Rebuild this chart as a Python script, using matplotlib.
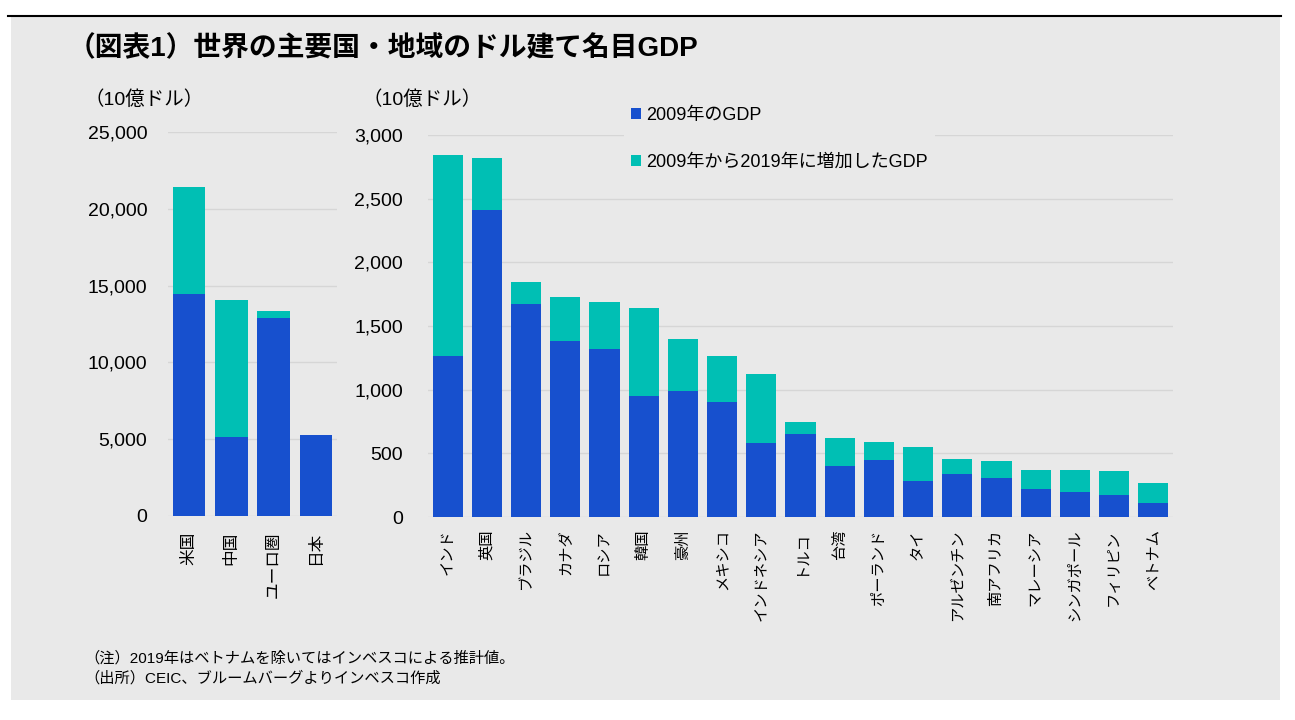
"""Nominal GDP in US dollars for major countries and regions, 2009 vs 2019."""

import matplotlib.pyplot as plt
import numpy as np
from matplotlib.lines import Line2D
from matplotlib.patches import Rectangle
from matplotlib.ticker import StrMethodFormatter

# left panel: large economies (billion USD)
big_names = ["米国", "中国", "ユーロ圏", "日本"]
big_2009 = [14450, 5150, 12900, 5280]
big_2019 = [21420, 14080, 13360, 5280]

# right panel: other economies (billion USD)
other_names = [
    "インド", "英国", "ブラジル", "カナダ", "ロシア", "韓国", "豪州", "メキシコ",
    "インドネシア", "トルコ", "台湾", "ポーランド", "タイ", "アルゼンチン",
    "南アフリカ", "マレーシア", "シンガポール", "フィリピン", "ベトナム",
]
other_2009 = [1265, 2410, 1670, 1380, 1318, 949, 986, 902, 579, 650,
              399, 446, 281, 336, 304, 218, 194, 171, 108]
other_2019 = [2845, 2820, 1845, 1727, 1688, 1638, 1397, 1263, 1122, 745,
              619, 587, 548, 454, 438, 367, 367, 359, 265]

series_labels = ["2009年のGDP", "2009年から2019年に増加したGDP"]

BLUE = "#1750CE"
TEAL = "#00BFB4"
BG = "#E9E9E9"
GRID = "#D6D6D6"


def setup_plt() -> None:
    """Configure matplotlib fonts."""
    plt.rcParams["font.family"] = ["Liberation Sans", "Noto Sans CJK JP", "DejaVu Sans"]
    plt.rcParams["axes.unicode_minus"] = False


def draw_panel(ax, names, base, total, ymax, step, label_size, label_pad, tick_pad):
    """Stacked bars: 2009 value plus growth up to 2019."""
    x = np.arange(len(names))
    base = np.array(base)
    growth = np.clip(np.array(total) - base, 0, None)
    b1 = ax.bar(x, base, 0.77, color=BLUE, label=series_labels[0], zorder=2)
    b2 = ax.bar(x, growth, 0.77, bottom=base, color=TEAL, label=series_labels[1], zorder=2)

    ax.set_facecolor("none")
    ax.set_xlim(-0.5, len(names) - 0.5)
    ax.set_ylim(0, ymax)
    ax.set_yticks(np.arange(0, ymax + 1, step))
    ax.yaxis.set_major_formatter(StrMethodFormatter("{x:,.0f}"))
    ax.grid(axis="y", color=GRID, linewidth=1.0, zorder=0)
    ax.set_axisbelow(True)
    for s in ax.spines.values():
        s.set_visible(False)
    ax.set_xticks(x, names, rotation=90, fontsize=label_size)
    ax.tick_params(axis="x", length=0, pad=label_pad)
    ax.tick_params(axis="y", length=0, pad=tick_pad, labelsize=14)
    return b1, b2


def main() -> None:
    """Draw the chart."""
    setup_plt()
    fig = plt.figure(figsize=(12.95, 7.2), dpi=100)

    # grey card and top rule
    fig.add_artist(Rectangle((11 / 1295, 1 - 700 / 720), 1269 / 1295, 683 / 720,
                             transform=fig.transFigure, facecolor=BG,
                             edgecolor="none", zorder=-10))
    fig.add_artist(Line2D([8 / 1295, 1281 / 1295], [1 - 16 / 720] * 2,
                          transform=fig.transFigure, color="black", linewidth=1.5))

    ax1 = fig.add_axes([168 / 1295, 1 - 516 / 720, 169 / 1295, 384 / 720])
    ax2 = fig.add_axes([428 / 1295, 1 - 517 / 720, 745 / 1295, 382 / 720])

    draw_panel(ax1, big_names, big_2009, big_2019, 25000, 5000, 12, 11, 15)
    b1, b2 = draw_panel(ax2, other_names, other_2009, other_2019, 3000, 500, 11, 9, 18)

    leg = ax2.legend(handles=[b1, b2], loc="upper left",
                     bbox_to_anchor=(624 / 1295, 1 - 100 / 720),
                     bbox_transform=fig.transFigure, fontsize=13,
                     frameon=True, facecolor=BG, edgecolor="none", framealpha=1,
                     handlelength=0.55, handleheight=0.55, handletextpad=0.3,
                     labelspacing=1.62, borderpad=0.4, borderaxespad=0)
    leg.set_zorder(5)

    fig.text(68 / 1295, 1 - 49 / 720, "（図表1）世界の主要国・地域のドル建て名目GDP",
             fontsize=20, fontweight="bold", va="center", ha="left")
    fig.text(84 / 1295, 1 - 100 / 720, "（10億ドル）", fontsize=14, va="center")
    fig.text(362 / 1295, 1 - 100 / 720, "（10億ドル）", fontsize=14, va="center")

    fig.text(84 / 1295, 1 - 658 / 720, "（注）2019年はベトナムを除いてはインベスコによる推計値。",
             fontsize=11, va="center")
    fig.text(84 / 1295, 1 - 678 / 720, "（出所）CEIC、ブルームバーグよりインベスコ作成",
             fontsize=11, va="center")

    plt.savefig("out.png", dpi=100)


if __name__ == "__main__":
    main()
